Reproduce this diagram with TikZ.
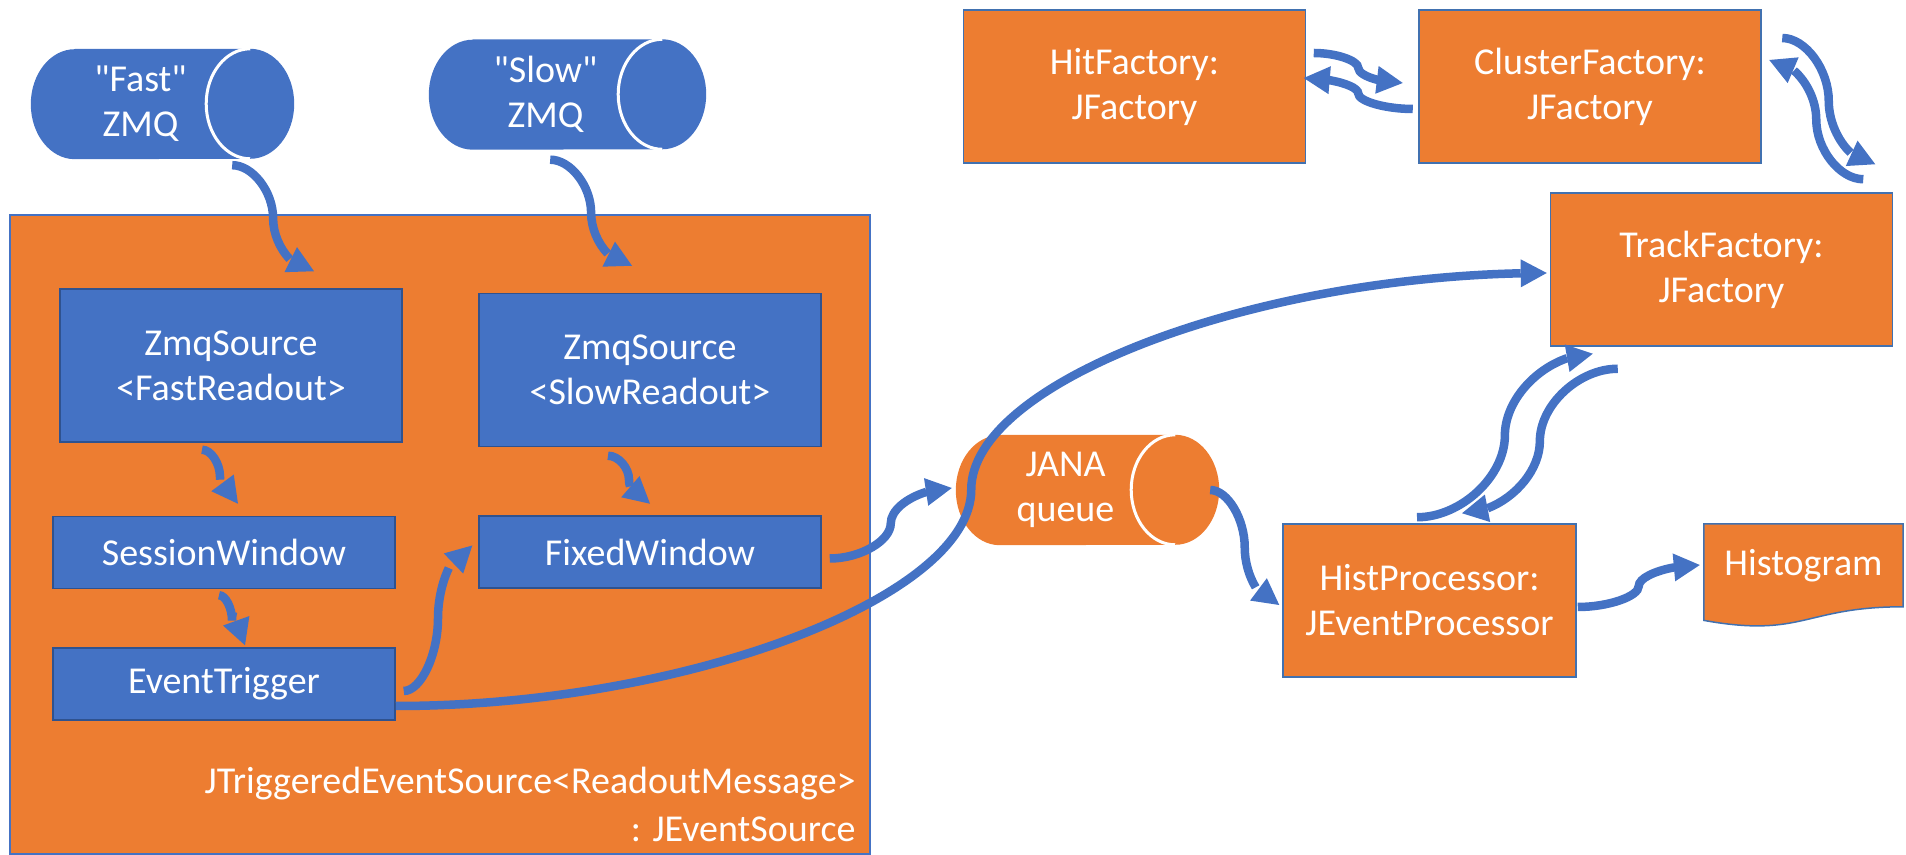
\documentclass[tikz,border=0pt]{standalone}
\usepackage{fontspec}
\setmainfont{Carlito}
\usepackage{tikz}
\usetikzlibrary{arrows.meta,bending,positioning,calc,backgrounds}
\definecolor{zblue}{RGB}{68,114,196}
\definecolor{zorange}{RGB}{237,125,49}
\definecolor{zedge}{RGB}{47,82,143}
\definecolor{oedge}{RGB}{65,113,176}
\tikzset{
  bluebox/.style={draw=zedge, line width=1.5pt, fill=zblue, text=white, align=center, inner sep=0pt, minimum width=342, minimum height=153, font=\fontsize{38}{45}\selectfont},
  orangebox/.style={draw=oedge, line width=1.5pt, fill=zorange, text=white, align=center, inner sep=0pt, minimum width=342, minimum height=153, font=\fontsize{38}{45}\selectfont},
  canbox/.style={text=white, align=center, inner sep=0pt, minimum width=131, minimum height=110, font=\fontsize{38}{45}\selectfont},
  curvy/.style={to path={let \p1=(\tikztostart), \p2=(\tikztotarget) in
    .. controls ({(3*\x1+\x2)/4},\y1) and ({(\x1+\x2)/2},{(3*\y1+\y2)/4})
    .. ({(\x1+\x2)/2},{(\y1+\y2)/2})
    .. controls ({(\x1+\x2)/2},{(\y1+3*\y2)/4}) and ({(\x1+3*\x2)/4},\y2)
    .. (\tikztotarget)}},
  flow/.style={draw=zblue, line width=8.5pt, -{Triangle[length=26pt,width=28pt,line width=0pt,flex]}, curvy}
}
\begin{document}
\begin{tikzpicture}[x=1pt, y=1pt]
\useasboundingbox (0,0) rectangle (1906,854);

% event source with its inner stages
\node[orangebox, draw=zblue, minimum width=860, minimum height=639] (trig) at (440,319.5) {};
\node[anchor=south east, align=right, text=white, inner sep=0pt, font=\fontsize{38}{48}\selectfont] (trigname) at ([shift={(-15,13)}]trig.south east) {JTriggeredEventSource<ReadoutMessage>\\: JEventSource};
\node[bluebox] (zmqfast) at (231,488.5) {ZmqSource\\<FastReadout>};
\node[bluebox, minimum height=72, below=73pt of zmqfast, xshift=-7pt] (session) {SessionWindow};
\node[bluebox, minimum height=72, below=58pt of session] (trigger) {EventTrigger};
\node[bluebox] (zmqslow) at (650,484) {ZmqSource\\<SlowReadout>};
\node[bluebox, minimum height=72, below=68pt of zmqslow] (fixed) {FixedWindow};

% queues
\node[canbox] (fastq) at (140.5,750) {\textquotedbl Fast\textquotedbl\\ZMQ};
\node[canbox, minimum width=145] (slowq) at (545.5,759.5) {\textquotedbl Slow\textquotedbl\\ZMQ};
\node[canbox] (jana) at (1065.5,364) {JANA\\queue};

% factories and processor
\node[orangebox] (hitf) at (1134.5,767.5) {HitFactory:\\JFactory};
\node[orangebox, right=112pt of hitf] (clusterf) {ClusterFactory:\\JFactory};
\node[orangebox] (trackf) at (1721.5,584.5) {TrackFactory:\\JFactory};
\node[orangebox, minimum width=293] (histproc) at (1429.5,253.5) {HistProcessor:\\JEventProcessor};
\node[text=white, inner sep=0pt, minimum width=199, minimum height=82.6, font=\fontsize{38}{45}\selectfont] (hist) at (1803.5,288.7) {Histogram};

\begin{scope}[on background layer]
  \foreach \q/\col in {fastq/zblue, slowq/zblue, jana/zorange}{
    \fill[\col] (\q.north west) -- ([xshift=44]\q.north east)
      arc[start angle=90, end angle=-90, x radius=44, y radius=55]
      -- (\q.south west)
      arc[start angle=270, end angle=90, x radius=44, y radius=55] -- cycle;
    \draw[white, line width=3pt] ([xshift=44]\q.north east)
      arc[start angle=90, end angle=270, x radius=44, y radius=55];
  }
  \filldraw[fill=zorange, draw=oedge, line width=1.5pt] (hist.north west) -- (hist.north east) -- (hist.south east)
    .. controls +(-99.5,0) and +(99.5,-17.9) .. ([yshift=-13.6]hist.south west) -- cycle;
\end{scope}

% data flow
\draw[flow] ([shift={(26,-6)}]fastq.south east) to ([shift={(83,17)}]zmqfast.north);
\draw[flow] ([shift={(-68,-10)}]slowq.south east) to ([shift={(-18,27)}]zmqslow.north);
\draw[flow] ([shift={(-29,-7)}]zmqfast.south) to ([shift={(14,12)}]session.north);
\draw[flow] ([shift={(-5,-6)}]session.south) to ([shift={(21,2)}]trigger.north);
\draw[flow] ([shift={(-42,-8.5)}]zmqslow.south) to ([shift={(0,11.5)}]fixed.north);
\draw[flow] ([shift={(8,-7)}]trigger.east) to ([shift={(-6,6.5)}]fixed.west);
\draw[flow] ([shift={(0,-22)}]trigger.east) to ([shift={(-3,-3.5)}]trackf.west);
\draw[flow] ([shift={(8,-6.5)}]fixed.east) to ([shift={(-48,2)}]jana.west);
\draw[flow] ([shift={(79,0)}]jana.east) to ([shift={(-3,-4.5)}]histproc.west);
\draw[flow] ([shift={(1,-6.5)}]histproc.east) to ([shift={(-4,0.3)}]hist.west);
\draw[flow] ([shift={(-12.5,6)}]histproc.north) to ([shift={(43,-7)}]trackf.south west);
\draw[flow] ([shift={(68,-22)}]trackf.south west) to ([shift={(32.5,10)}]histproc.north);
\draw[flow] ([shift={(7.5,33.5)}]hitf.east) to ([shift={(-15.5,3.5)}]clusterf.west);
\draw[flow] ([shift={(-5.5,-22.5)}]clusterf.west) to ([shift={(-2.5,8.5)}]hitf.east);
\draw[flow] ([shift={(20.5,48.5)}]clusterf.east) to ([shift={(-18,28)}]trackf.north east);
\draw[flow] ([shift={(-30,13)}]trackf.north east) to ([shift={(7.5,26.5)}]clusterf.east);
\end{tikzpicture}
\end{document}
